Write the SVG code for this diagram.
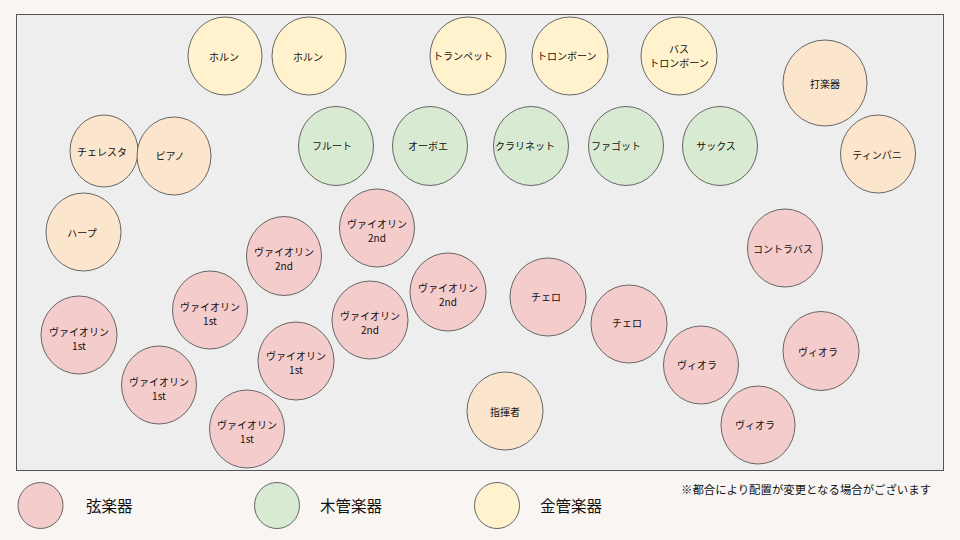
<svg xmlns="http://www.w3.org/2000/svg" width="960" height="540" viewBox="0 0 960 540">
<style>
text{font-family:"Noto Sans CJK JP","Noto Sans",sans-serif;fill:#111;font-size:10px;text-anchor:middle;dominant-baseline:central}
ellipse{stroke:#666;stroke-width:1}
.s{fill:#f4cccc}.w{fill:#d9ead3}.b{fill:#fff2cc}.o{fill:#fce5cd}
.lg{font-size:15.5px;text-anchor:start}
.note{font-size:11.4px;text-anchor:start}
</style>
<rect x="0" y="0" width="960" height="540" fill="#f8f5f3"/>
<rect id="stage" x="16.5" y="14.5" width="927" height="456" fill="#eeeeee" stroke="#555" stroke-width="1"/>
<g id="connectors"/>
<g id="horn1"><ellipse class="b" cx="225" cy="56" rx="37" ry="39"/><text x="224" y="56">ホルン</text></g>
<g id="horn2"><ellipse class="b" cx="309" cy="56" rx="37" ry="39"/><text x="308" y="56">ホルン</text></g>
<g id="trumpet"><ellipse class="b" cx="468" cy="56" rx="38" ry="39"/><text x="433" y="55" style="text-anchor:start">トランペット</text></g>
<g id="trombone"><ellipse class="b" cx="570" cy="56" rx="38" ry="39"/><text x="537" y="55" style="text-anchor:start">トロンボーン</text></g>
<g id="basstrombone"><ellipse class="b" cx="679" cy="56" rx="38" ry="39"/><text x="679" y="48">バス</text><text x="679" y="62.5">トロンボーン</text></g>
<g id="percussion"><ellipse class="o" cx="825" cy="83" rx="42" ry="43"/><text x="825" y="83">打楽器</text></g>
<g id="timpani"><ellipse class="o" cx="878" cy="154" rx="37.5" ry="39"/><text x="877" y="154">ティンパニ</text></g>
<g id="celesta"><ellipse class="o" cx="104" cy="151" rx="34" ry="36"/><text x="102" y="151">チェレスタ</text></g>
<g id="piano"><ellipse class="o" cx="174" cy="156" rx="37" ry="39"/><text x="170" y="155">ピアノ</text></g>
<g id="harp"><ellipse class="o" cx="83.5" cy="232" rx="37.5" ry="39"/><text x="82" y="232">ハープ</text></g>
<g id="conductor"><ellipse class="o" cx="505" cy="411" rx="38" ry="39"/><text x="505" y="411">指揮者</text></g>
<g id="flute"><ellipse class="w" cx="336" cy="146" rx="37.5" ry="39.5"/><text x="332" y="145">フルート</text></g>
<g id="oboe"><ellipse class="w" cx="430" cy="146" rx="37.5" ry="39.5"/><text x="428" y="145">オーボエ</text></g>
<g id="clarinet"><ellipse class="w" cx="531" cy="146" rx="37.5" ry="39.5"/><text x="525" y="145">クラリネット</text></g>
<g id="fagotto"><ellipse class="w" cx="626" cy="146" rx="37.5" ry="39.5"/><text x="616" y="145">ファゴット</text></g>
<g id="sax"><ellipse class="w" cx="720" cy="146" rx="37.5" ry="39.5"/><text x="716" y="145">サックス</text></g>
<g id="vn2-1"><ellipse class="s" cx="377" cy="228" rx="37.5" ry="39"/><text x="377" y="223">ヴァイオリン</text><text x="377" y="237.5">2nd</text></g>
<g id="vn2-2"><ellipse class="s" cx="284" cy="256" rx="37.5" ry="39.5"/><text x="284" y="251">ヴァイオリン</text><text x="284" y="265.5">2nd</text></g>
<g id="vn2-3"><ellipse class="s" cx="448" cy="292" rx="38" ry="39"/><text x="448" y="287">ヴァイオリン</text><text x="448" y="301.5">2nd</text></g>
<g id="vn2-4"><ellipse class="s" cx="370" cy="320" rx="38" ry="39"/><text x="370" y="315">ヴァイオリン</text><text x="370" y="329.5">2nd</text></g>
<g id="vn1-1"><ellipse class="s" cx="79" cy="335" rx="38" ry="39"/><text x="79" y="331">ヴァイオリン</text><text x="79" y="345.5">1st</text></g>
<g id="vn1-2"><ellipse class="s" cx="210" cy="310" rx="37.5" ry="39"/><text x="210" y="306">ヴァイオリン</text><text x="210" y="320.5">1st</text></g>
<g id="vn1-3"><ellipse class="s" cx="159" cy="385" rx="37.5" ry="39"/><text x="159" y="381">ヴァイオリン</text><text x="159" y="395.5">1st</text></g>
<g id="vn1-4"><ellipse class="s" cx="296" cy="361" rx="38" ry="39"/><text x="296" y="355">ヴァイオリン</text><text x="296" y="369.5">1st</text></g>
<g id="vn1-5"><ellipse class="s" cx="247" cy="429" rx="37.5" ry="39"/><text x="247" y="424">ヴァイオリン</text><text x="247" y="438.5">1st</text></g>
<g id="cello1"><ellipse class="s" cx="548" cy="297" rx="38" ry="39"/><text x="546" y="296">チェロ</text></g>
<g id="cello2"><ellipse class="s" cx="629" cy="324" rx="38" ry="39"/><text x="627" y="322">チェロ</text></g>
<g id="contrabass"><ellipse class="s" cx="785" cy="248" rx="37.5" ry="39"/><text x="783" y="248">コントラバス</text></g>
<g id="viola1"><ellipse class="s" cx="701" cy="365" rx="37.5" ry="39"/><text x="697" y="364">ヴィオラ</text></g>
<g id="viola2"><ellipse class="s" cx="821" cy="351" rx="38" ry="39.5"/><text x="818" y="351">ヴィオラ</text></g>
<g id="viola3"><ellipse class="s" cx="758" cy="425" rx="37" ry="39"/><text x="755" y="424">ヴィオラ</text></g>
<g id="legend-strings"><ellipse class="s" cx="40.5" cy="505.5" rx="22.5" ry="23"/><text class="lg" x="86" y="505">弦楽器</text></g>
<g id="legend-wood"><ellipse class="w" cx="277" cy="505.5" rx="22.5" ry="23"/><text class="lg" x="320" y="505">木管楽器</text></g>
<g id="legend-brass"><ellipse class="b" cx="497" cy="505.5" rx="22.5" ry="23"/><text class="lg" x="540" y="505">金管楽器</text></g>
<text class="note" x="681" y="489">※都合により配置が変更となる場合がございます</text>
</svg>
